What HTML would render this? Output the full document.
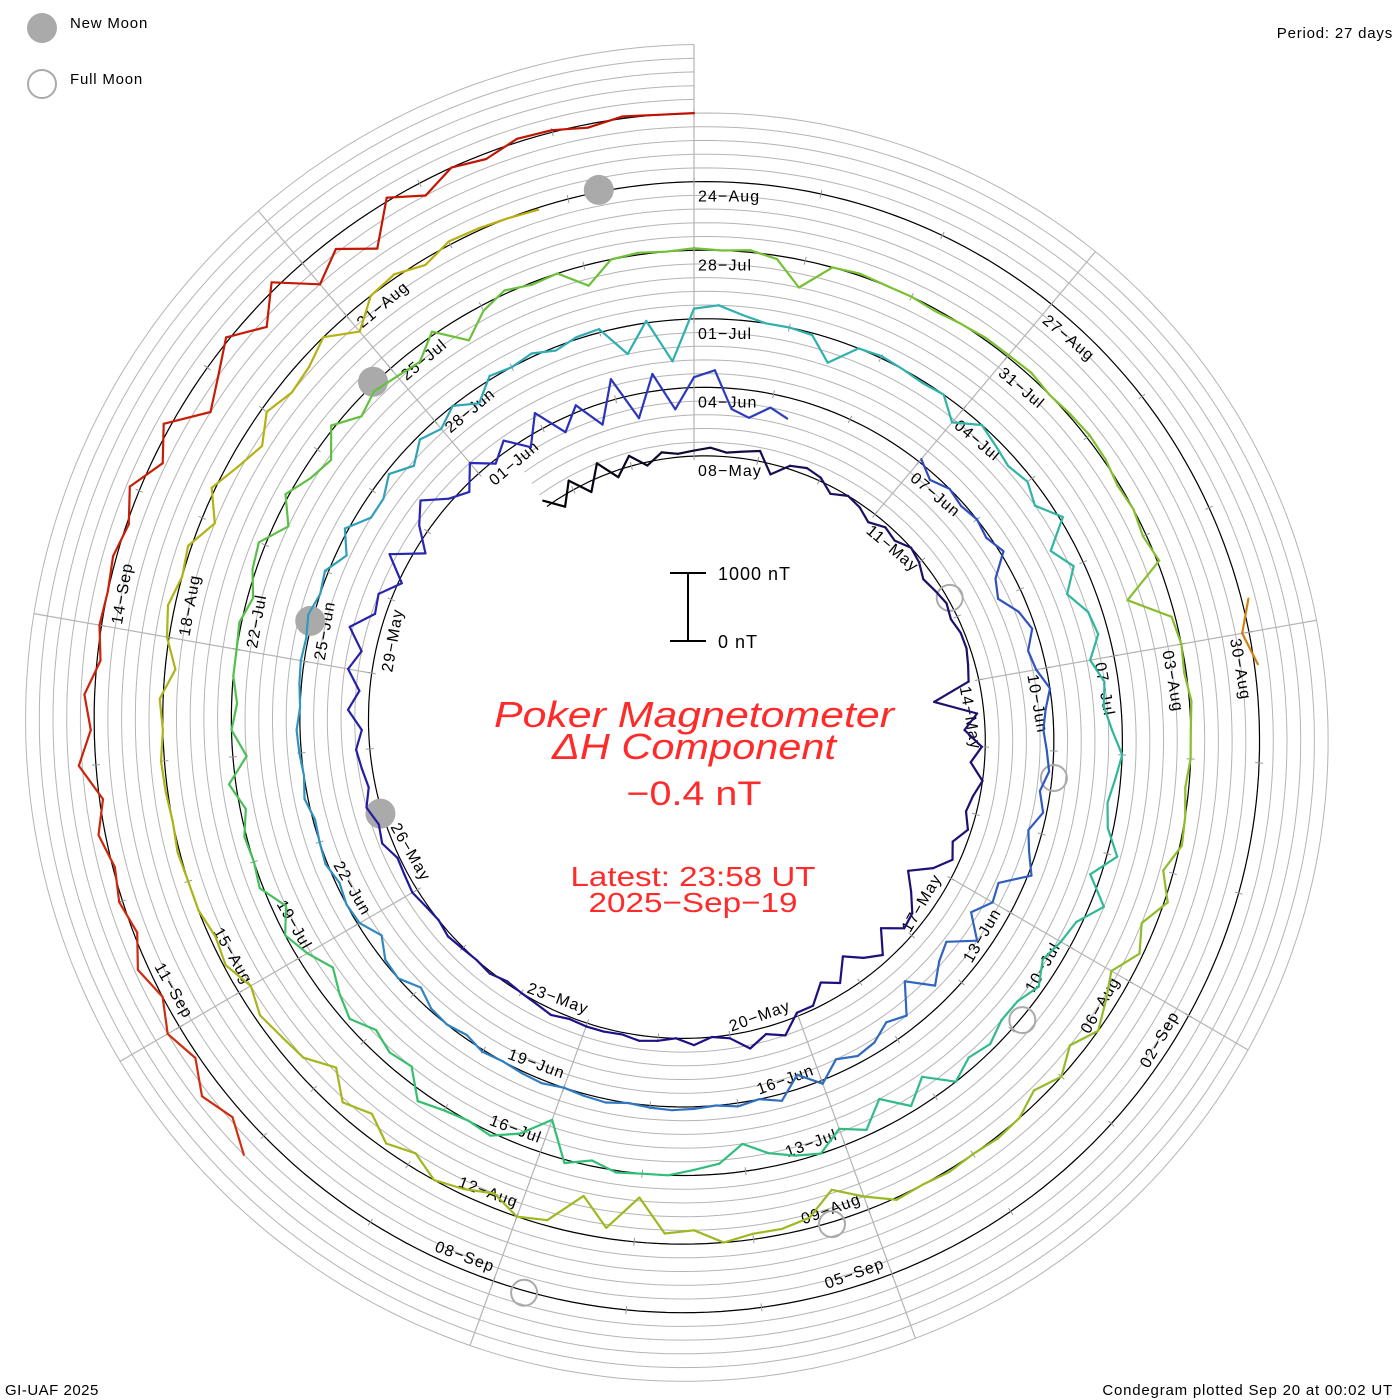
<!DOCTYPE html>
<html>
<head>
<meta charset="utf-8">
<style>
  html,body{margin:0;padding:0;background:#fff;}
  svg{display:block;}
  text{font-family:"Liberation Sans",sans-serif;}
</style>
</head>
<body>
<svg id="chart" width="1400" height="1400" viewBox="0 0 1400 1400" xmlns="http://www.w3.org/2000/svg">
  <g id="grid"></g>
  <g id="spokes"></g>
  <g id="ticks"></g>
  <g id="labels"></g>
  <g id="moons"></g>
  <g id="trace"></g>

  <g>
    <circle cx="42" cy="28" r="15" fill="#aaaaaa"/>
    <text x="70" y="28" font-size="15" fill="#000" letter-spacing="0.8">New Moon</text>
    <circle cx="42" cy="84" r="14" fill="none" stroke="#aaaaaa" stroke-width="2"/>
    <text x="70" y="84" font-size="15" fill="#000" letter-spacing="0.8">Full Moon</text>
  </g>
  <text x="1393" y="38" font-size="15" text-anchor="end" letter-spacing="0.8">Period: 27 days</text>
  <text x="5" y="1395" font-size="15" letter-spacing="0.5">GI-UAF 2025</text>
  <text x="1393" y="1395" font-size="15" text-anchor="end" letter-spacing="0.8">Condegram plotted Sep 20 at 00:02 UT</text>

  <g stroke="#000" stroke-width="2">
    <line x1="688" y1="573" x2="688" y2="641"/>
    <line x1="670" y1="573" x2="706" y2="573"/>
    <line x1="670" y1="641" x2="706" y2="641"/>
  </g>
  <text x="718" y="580" font-size="18" letter-spacing="1">1000 nT</text>
  <text x="718" y="648" font-size="18" letter-spacing="1">0 nT</text>

  <g fill="#ff2a2a">
    <text x="694" y="727" font-family="Liberation Serif, serif" font-style="italic" font-size="36" text-anchor="middle" textLength="400" lengthAdjust="spacingAndGlyphs">Poker Magnetometer</text>
    <text x="694" y="759" font-family="Liberation Serif, serif" font-style="italic" font-size="36" text-anchor="middle" textLength="284" lengthAdjust="spacingAndGlyphs">ΔH Component</text>
    <text x="694" y="805" font-size="34" text-anchor="middle" textLength="135" lengthAdjust="spacingAndGlyphs">−0.4 nT</text>
    <text x="693" y="886" font-size="28" text-anchor="middle" textLength="245" lengthAdjust="spacingAndGlyphs">Latest: 23:58 UT</text>
    <text x="693" y="912" font-size="28" text-anchor="middle" textLength="209" lengthAdjust="spacingAndGlyphs">2025−Sep−19</text>
  </g>
</svg>

<script>
// ---- data (ΔH in nT, 6-hour samples; day 0 = 08-May 00:00 UT) ----
const segmentStarts = [-2.5, 30, 113.75, 125];
const seg1Values = [100,-150,150,-150,200,-100,150,-50,100,50,
 80,120,60,100, 150,-150,50,100, 50,-100,0,-50, -150,-50,-100,0,
 -50,-150,-100,-50, -100,-50,-50,-100, -150,-700,-100,-300, -50,-200,0,-100,
 -150,-50,-200,-100, -300,-600,-400,-200, -150,-400,-100,-250, -450,-150,-300,-50,
 -50,200,100,250, 50,0,100,0, 50,80,30,50, 50,30,80,30,
 0,-30,30,0, 20,50,0,30, 80,50,30,150, 100,200,100,150,
 200,100,300,150, 350,200,450,150, 200,-50,300,-150, 150,350,50,-100,
 200,-50,150,-150, 250,-200,100,-300, 300,-350,250,-300, 150,250,-300,-400,
 -200,-300];
const seg2Values = [50,-100,0,-50, 0,-50,50,-250, -350,-150,-50,-200, -150,0,-100,-150,
 -100,-50,-150,-50, -200,-100,50,-350, -300,-500,-200,-550, -450,-250,-600,-200,
 -300,-150,-100,-200, 50,-200,100,0, 50,0,30,50, 30,0,50,30,
 0,50,30,0, 30,-50,0,-30, -150,0,-30,-200, -30,0,-50,30,
 0,-30,50,0, 30,50,0,30, 50,30,80,0, 50,-150,50,-200,
 -200,-50,-250,-50, -150,0,-200,50, 0,50,-50,30, 50,-400,30,-600,
 150,200,80,0, 0,-30,-350,0, 30,0,-30,0, -250,0,-80,-150,
 -80,-200,50,-350, -150,-400,-200,-150, -350,-200,-250,-150, 0,-80,-150,-80,
 150,-150,200,-80, -150,-250,-80,-200, -200,-80,-150,0, -350,-80,-400,-80,
 -250,0,-80,-200, -400,-150,-80,0, 0,30,-80,50, -500,-150,50,0,
 50,150,-200,-150, -250,-80,-200,-350, -150,0,-200,50, 0,30,-80,100,
 -200,0,-80,0, 0,30,-80,50, 100,-200,50,-150, -250,50,-200,-80,
 -150,-200,50,-350, -80,50,-30,0, -300,0,30,0, 30,0,30,-50,
 -400,0,30,0, 0,-30,0,30, 30,50,0,30, 50,30,-30,0,
 -50,30,-600,-50, 0,-30,30,0, 0,-50,0,30, -150,50,-200,-50,
 -300,-150,0,-200, 0,-150,0,30, 0,30,0,30, -200,-450,-150,-80,
 -80,0,-200,-150, -650,-150,-550,-80, 0,-200,-80,0, -200,-80,-300,-150,
 -450,-200,-150,-80, -200,-30,-80,0, 0,30,0,30, 50,0,50,-150,
 30,100,0,50, -200,50,-150,-300, -80,-200,-150,0, -300,0,50,-80,
 50,30,0,-30];
const seg3Values = [100,-100,50];
const seg4Values = [400,150,300,50, 200,0,150,-50, 50,-30,100,-50, 250,50,150,-50,
 30,0,50,-30, 150,-150,100,-400, -200,50,-300,100, -400,-150,-500,50,
 -200,0,-80,50, 30,-50,30,0, -0.4];
const segments = [seg1Values, seg2Values, seg3Values, seg4Values];
const newMoonDays = [19.13, 48.44, 77.8, 107.25];
const fullMoonDays = [4.7, 34.32, 63.86, 93.33, 122.76];
const monthNames = ["Jan","Feb","Mar","Apr","May","Jun","Jul","Aug","Sep","Oct","Nov","Dec"];
const labelDays = [0,3,6,9,12,15,18,21,24,27,30,33,36,39,42,45,48,51,54,57,60,63,66,69,72,75,78,81,84,87,90,93,96,99,102,105,108,111,114,117,120,123,126,129];

// ---- geometry ----
const NS = "http://www.w3.org/2000/svg";
const CX = 694, CY = 730, R0 = 273.9, PERIOD = 27, PITCH = 68.6, NT_PX = 0.0686;
const STEP = 0.25, D_START = -2.5, D_END = 135;
function angleOf(d){ return 2*Math.PI*d/PERIOD; }
function rBase(d){ return R0 + PITCH*d/PERIOD; }
function pt(d, r){ const a = angleOf(d); return [CX + r*Math.sin(a), CY - r*Math.cos(a)]; }
function valueToR(d, v){ return rBase(d) + v*NT_PX; }

function mk(tag, attrs, parent){
  const e = document.createElementNS(NS, tag);
  for (const k in attrs) e.setAttribute(k, attrs[k]);
  parent.appendChild(e);
  return e;
}

const cStops = [[-2.5,[0,0,0]],[2,[26,16,96]],[15,[28,16,138]],[24,[42,42,184]],[30,[48,72,192]],
 [40,[48,112,192]],[46,[48,144,192]],[54,[48,176,176]],[62,[48,184,152]],[70,[48,192,112]],
 [77,[96,192,64]],[84,[128,192,48]],[95,[160,184,32]],[106,[184,176,16]],[114,[208,128,16]],
 [125,[208,48,16]],[135,[192,16,0]]];
function colorAt(d){
  for (let i=0;i<cStops.length-1;i++){
    const a=cStops[i], b=cStops[i+1];
    if (d<=b[0]){ const t=Math.max(0,(d-a[0])/(b[0]-a[0]));
      const c=a[1].map((v,k)=>Math.round(v+(b[1][k]-v)*t)); return `rgb(${c[0]},${c[1]},${c[2]})`; }
  }
  const c=cStops[cStops.length-1][1]; return `rgb(${c[0]},${c[1]},${c[2]})`;
}

// ---- grid spirals ----
const grid = document.getElementById('grid');
function spiralPath(off, d0, d1){
  let s = "";
  for (let d=d0; d<=d1+1e-9; d+=0.1){
    const p = pt(d, rBase(d)+off);
    s += (s?"L":"M") + p[0].toFixed(1) + "," + p[1].toFixed(1);
  }
  return s;
}
for (let j=1;j<=5;j++){
  const g = mk('path', {d: spiralPath(j*PITCH/5, D_START, D_END), fill:'none', stroke:'#b4b4b4', 'stroke-width':1}, grid);
  
  
}
const base = mk('path', {d: spiralPath(0, D_START, D_END), fill:'none', stroke:'#000', 'stroke-width':1.2}, grid);



// ---- spokes every 3 days ----
const spokes = document.getElementById('spokes');
for (let k=0;k<9;k++){
  const d0 = k*3;
  let dOut = d0; while (dOut + PERIOD <= D_END + 1e-9) dOut += PERIOD;
  const p1 = pt(d0, rBase(d0)), p2 = pt(d0, rBase(dOut)+PITCH);
  const s = mk('line', {x1:p1[0], y1:p1[1], x2:p2[0], y2:p2[1], stroke:'#b4b4b4', 'stroke-width':1.2}, spokes);
  
  
}

// ---- daily ticks ----
const ticks = document.getElementById('ticks');
for (let d=-2; d<=D_END; d++){
  const r = rBase(d);
  const p1 = pt(d, r-4), p2 = pt(d, r+4);
  const t = mk('line', {x1:p1[0], y1:p1[1], x2:p2[0], y2:p2[1], stroke:'#999', 'stroke-width':1}, ticks);
  
  
}

// ---- date labels ----
const labels = document.getElementById('labels');
const day0 = Date.UTC(2025, 4, 8);
labelDays.forEach(d => {
  const dt = new Date(day0 + d*86400000);
  const txt = String(dt.getUTCDate()).padStart(2,'0') + "−" + monthNames[dt.getUTCMonth()];
  const phi = (d/PERIOD*360) % 360;
  const p = pt(d, rBase(d));
  const flipped = phi > 90 && phi < 270;
  const rot = flipped ? phi - 180 : phi;
  const t = mk('text', {
    transform: `translate(${p[0].toFixed(1)},${p[1].toFixed(1)}) rotate(${rot.toFixed(2)})`,
    x: flipped ? -4 : 4, y: flipped ? -8 : 20,
    'text-anchor': flipped ? 'end' : 'start',
    'font-size': 16, 'letter-spacing': 1.1, fill:'#000'
  }, labels);
  t.textContent = txt;
  
  
});

// ---- moons ----
const moons = document.getElementById('moons');
newMoonDays.forEach(d => {
  const p = pt(d, rBase(d)+2);
  const c = mk('circle', {cx:p[0], cy:p[1], r:15, fill:'#aaaaaa'}, moons);
  
  
});
fullMoonDays.forEach(d => {
  const p = pt(d, rBase(d)+2);
  const c = mk('circle', {cx:p[0], cy:p[1], r:13, fill:'none', stroke:'#aaaaaa', 'stroke-width':2}, moons);
  
  
});

// ---- trace ----
const trace = document.getElementById('trace');
segments.forEach((vals, si) => {
  const start = segmentStarts[si];
  for (let i=0;i<vals.length-1;i++){
    const da = start + i*STEP, db = start + (i+1)*STEP;
    const pa = pt(da, valueToR(da, vals[i])), pb = pt(db, valueToR(db, vals[i+1]));
    const l = mk('line', {x1:pa[0].toFixed(1), y1:pa[1].toFixed(1), x2:pb[0].toFixed(1), y2:pb[1].toFixed(1),
      stroke: colorAt((da+db)/2), 'stroke-width':2.2, 'stroke-linecap':'round'}, trace);
    
    
  }
});
</script>
</body>
</html>
